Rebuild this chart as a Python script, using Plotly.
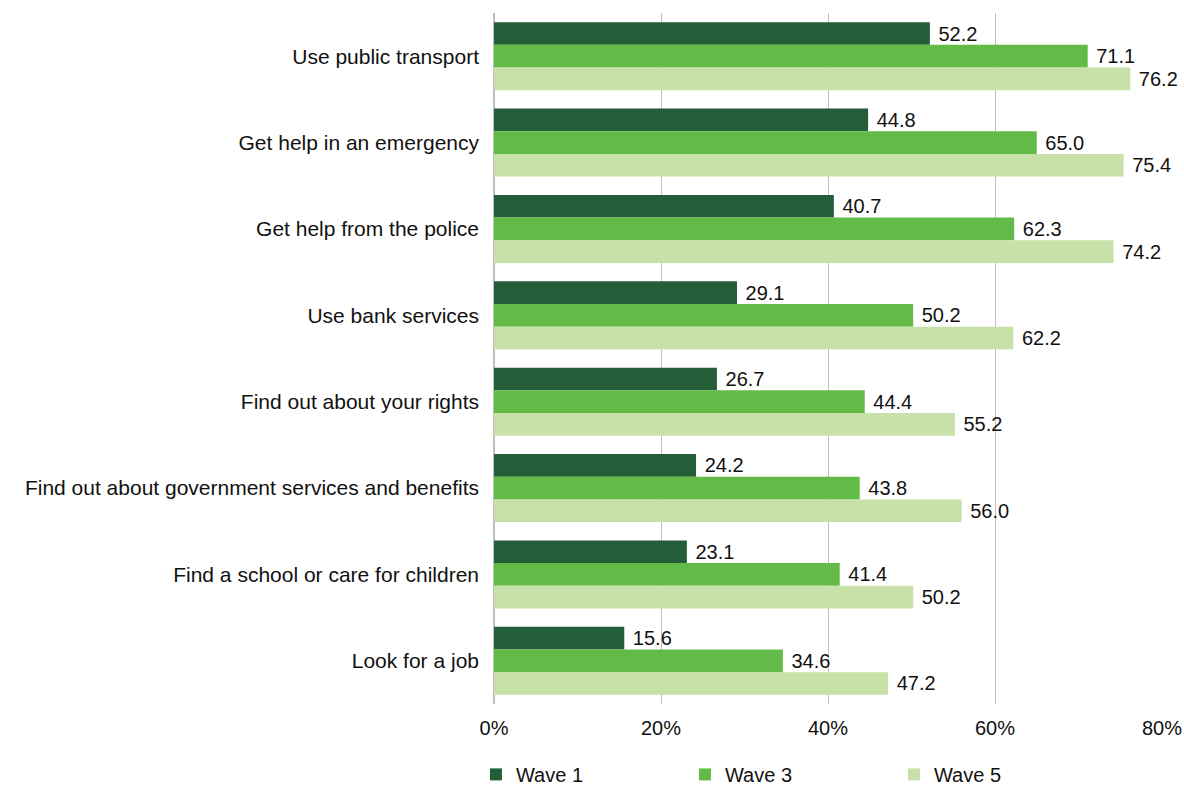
import plotly.graph_objects as go

categories = [
    "Use public transport",
    "Get help in an emergency",
    "Get help from the police",
    "Use bank services",
    "Find out about your rights",
    "Find out about government services and benefits",
    "Find a school or care for children",
    "Look for a job",
]
wave1 = [52.2, 44.8, 40.7, 29.1, 26.7, 24.2, 23.1, 15.6]
wave3 = [71.1, 65.0, 62.3, 50.2, 44.4, 43.8, 41.4, 34.6]
wave5 = [76.2, 75.4, 74.2, 62.2, 55.2, 56.0, 50.2, 47.2]

series = [
    ("Wave 1", wave1, "#235E39"),
    ("Wave 3", wave3, "#62BB47"),
    ("Wave 5", wave5, "#C8E1A8"),
]

font_family = "Liberation Sans, Arial, Helvetica, sans-serif"

fig = go.Figure()
for name, vals, color in series:
    fig.add_trace(go.Bar(
        name=name,
        y=categories,
        x=vals,
        orientation="h",
        marker=dict(color=color, line=dict(width=0)),
        text=[f" {v:.1f}" for v in vals],
        textposition="outside",
        textfont=dict(size=20, color="#111111", family=font_family),
        cliponaxis=False,
    ))

fig.update_layout(
    width=1184,
    height=787,
    margin=dict(l=494, r=22, t=13, b=83, autoexpand=False),
    paper_bgcolor="white",
    plot_bgcolor="white",
    barmode="group",
    bargap=0.214,
    bargroupgap=0,
    font=dict(family=font_family, size=20, color="#111111"),
    showlegend=True,
    legend=dict(
        orientation="h",
        xref="container",
        x=0.402,
        xanchor="left",
        yref="container",
        y=0.016,
        yanchor="middle",
        entrywidth=164,
        entrywidthmode="pixels",
        itemwidth=30,
        font=dict(size=20, color="#111111"),
        traceorder="normal",
        bgcolor="rgba(0,0,0,0)",
        borderwidth=0,
    ),
)

fig.update_xaxes(
    range=[0, 80],
    dtick=20,
    ticksuffix="%",
    showgrid=True,
    gridcolor="#BFBFBF",
    gridwidth=1,
    zeroline=True,
    zerolinecolor="#BFBFBF",
    zerolinewidth=2,
    ticks="",
    ticklabelstandoff=10,
    tickfont=dict(size=20),
    showline=False,
    automargin=False,
)
fig.update_yaxes(
    autorange="reversed",
    showgrid=False,
    ticks="",
    ticklabelstandoff=14,
    tickfont=dict(size=21),
    showline=False,
    automargin=False,
)

fig.write_html("out.html")
